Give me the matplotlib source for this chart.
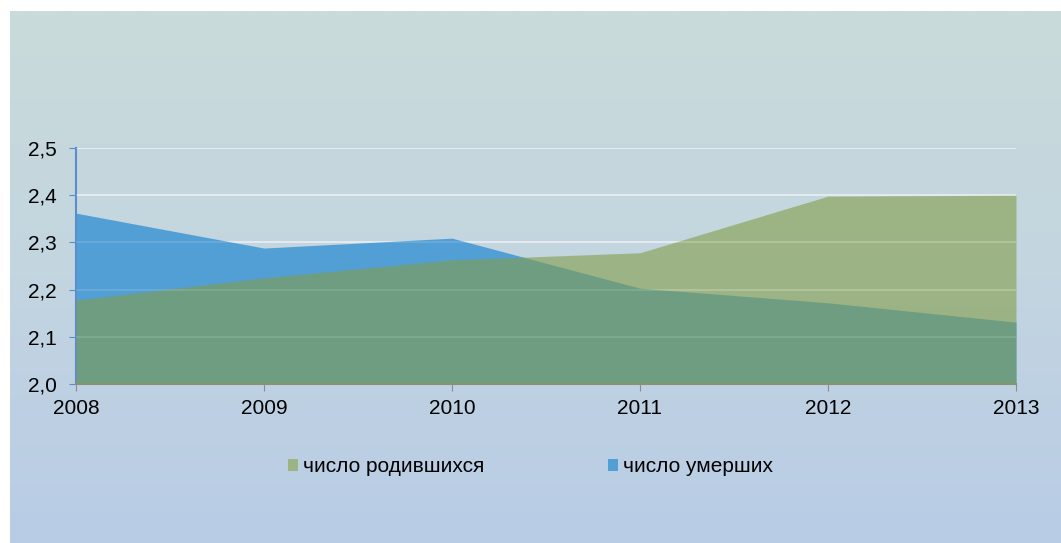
import numpy as np
import matplotlib
matplotlib.use('Agg')
import matplotlib.pyplot as plt
from matplotlib.colors import LinearSegmentedColormap
from matplotlib.patches import Patch

plt.rcParams['font.family'] = ['Liberation Sans', 'DejaVu Sans']

years = [2008, 2009, 2010, 2011, 2012, 2013]
births = [2.178, 2.225, 2.263, 2.278, 2.398, 2.400]
deaths = [2.362, 2.288, 2.309, 2.203, 2.172, 2.131]
yticks = [2.0, 2.1, 2.2, 2.3, 2.4, 2.5]
ylabels = ['2,0', '2,1', '2,2', '2,3', '2,4', '2,5']
names = ['число родившихся', 'число умерших']

W, H = 1061, 543
fig = plt.figure(figsize=(W / 100, H / 100), dpi=100)
fig.patch.set_facecolor('white')

# gradient background
bg = fig.add_axes([10 / W, 0, (W - 10) / W, (H - 11) / H])
cmap = LinearSegmentedColormap.from_list('bg', ['#c9dbda', '#c3d5e0', '#b8cce6'])
bg.imshow(np.linspace(0, 1, 256).reshape(-1, 1), aspect='auto', cmap=cmap,
          extent=[0, 1, 0, 1])
bg.axis('off')

ax = fig.add_axes([76 / W, 1 - 384 / H, 940 / W, 236 / H])
ax.patch.set_alpha(0)

blue = '#529fd6'
green = '#829d49'
ax.fill_between(years, 2.0, deaths, color=blue, lw=0, zorder=2)
ax.fill_between(years, 2.0, births, color=green, alpha=0.6, lw=0, zorder=3)

for y in yticks[1:]:
    ax.axhline(y, color='white', lw=1.5, alpha=0.45, zorder=1)
    ax.axhline(y, color='white', lw=1.5, alpha=0.12, zorder=4)

ax.set_xlim(2008, 2013)
ax.set_ylim(2.0, 2.5)
ax.set_xticks(years)
ax.set_yticks(yticks)
ax.set_yticklabels(ylabels)
ax.tick_params(axis='both', labelsize=15, colors='black')
ax.tick_params(axis='y', direction='out', length=5, color='#5b8ccc', pad=9)
ax.tick_params(axis='x', direction='out', length=5, color='#8c8c8c', pad=6)

for s in ['top', 'right']:
    ax.spines[s].set_visible(False)
ax.spines['left'].set_color('#5b8ccc')
ax.spines['left'].set_linewidth(1.5)
ax.spines['bottom'].set_color('#8c8c8c')
ax.spines['bottom'].set_linewidth(1.5)

handles = [Patch(facecolor='#9cb384', edgecolor='none'),
           Patch(facecolor=blue, edgecolor='none')]
fig.legend(handles, names, loc='center', bbox_to_anchor=(0.5, 1 - 467 / H),
           ncol=2, frameon=False, fontsize=15, handlelength=0.5, handleheight=0.5,
           handletextpad=0.25, columnspacing=5.9)

fig.savefig('out.png', dpi=100)
